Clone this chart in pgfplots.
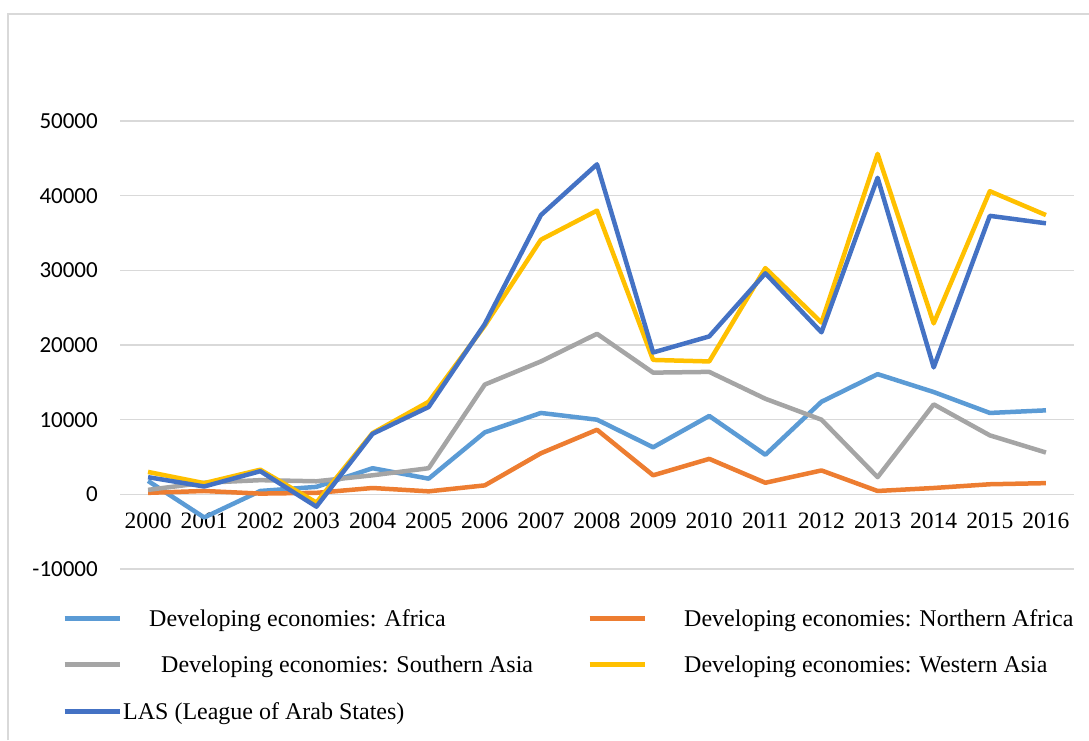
\documentclass[border=0pt]{standalone}
\usepackage{fontspec}
\setmainfont{Liberation Serif}
\setsansfont{Carlito}
\usepackage{pgfplots}
\pgfplotsset{compat=1.18}
\usepackage{pgfplotstable}
\definecolor{cAfr}{HTML}{5B9BD5}
\definecolor{cNaf}{HTML}{ED7D31}
\definecolor{cSas}{HTML}{A5A5A5}
\definecolor{cWas}{HTML}{FFC000}
\definecolor{cLas}{HTML}{4472C4}
\definecolor{cGrid}{HTML}{D9D9D9}
\pgfplotstableread{
year afr naf sas was las
2000 1800 200 600 3000 2300
2001 -3100 450 1550 1500 1050
2002 450 100 1900 3300 3100
2003 1000 200 1750 -1100 -1650
2004 3500 850 2550 8200 8100
2005 2100 400 3500 12400 11700
2006 8300 1200 14700 22600 22800
2007 10900 5500 17800 34100 37400
2008 10000 8650 21500 38000 44200
2009 6300 2550 16300 18000 19000
2010 10500 4750 16400 17800 21150
2011 5300 1550 12800 30300 29600
2012 12400 3200 10000 23000 21700
2013 16100 450 2300 45600 42400
2014 13700 850 12050 22900 17000
2015 10900 1350 7900 40600 37300
2016 11250 1500 5600 37400 36300
}\datatable
\newcommand{\lstrut}{\rule[-7pt]{0pt}{24pt}}
\begin{document}
\begin{tikzpicture}
\useasboundingbox (0pt,0pt) rectangle (1089pt,-740pt);
\draw[cGrid, line width=1.5pt] (8pt,-740pt) -- (8pt,-14pt) -- (1089pt,-14pt);
\begin{axis}[
  at={(120pt,-121pt)}, anchor=north west,
  scale only axis, width=954pt, height=448pt,
  xmin=1999.5, xmax=2016.5, ymin=-10000, ymax=50000,
  xtick={2000,...,2016}, ytick={-10000,0,...,50000},
  yticklabels={-10000,0,10000,20000,30000,40000,50000},
  axis line style={draw=none},
  major tick length=0pt,
  ymajorgrids, grid style={cGrid, line width=1.5pt},
  scaled y ticks=false,
  /pgf/number format/1000 sep={},
  /pgf/number format/assume math mode=true,
  yticklabel style={font=\sffamily\fontsize{23}{27}\selectfont, inner sep=0pt, anchor=east, xshift=-22pt},
  xticklabel style={font=\rmfamily\fontsize{23.5}{27}\selectfont, inner sep=0pt, anchor=north, yshift=56pt},
  legend columns=2,
  legend cell align=left,
  legend style={draw=none, fill=none, inner sep=0pt, column sep=0pt, row sep=28pt,
    nodes={inner sep=0pt}, at={(-0.0608,-0.0893)}, anchor=north west,
    font=\fontsize{24}{28}\selectfont},
  legend image code/.code={\draw[#1, line width=5pt] (0pt,0pt) -- (55pt,0pt);},
  every axis plot/.append style={line width=4.5pt, line join=round},
]
\addplot[cAfr, mark=none] table[x=year, y=afr] {\datatable};
\addlegendentry{\makebox[465pt][l]{\hspace{27pt}Developing economies: Africa\lstrut}}
\addplot[cNaf, mark=none] table[x=year, y=naf] {\datatable};
\addlegendentry{\hspace{37pt}Developing economies: Northern Africa\lstrut}
\addplot[cSas, mark=none] table[x=year, y=sas] {\datatable};
\addlegendentry{\makebox[465pt][l]{\hspace{39pt}Developing economies: Southern Asia\lstrut}}
\addplot[cWas, mark=none] table[x=year, y=was] {\datatable};
\addlegendentry{\hspace{37pt}Developing economies: Western Asia\lstrut}
\addplot[cLas, mark=none] table[x=year, y=las] {\datatable};
\addlegendentry{\makebox[465pt][l]{\hspace{1pt}LAS (League of Arab States)\lstrut}}
\end{axis}
\end{tikzpicture}
\end{document}
